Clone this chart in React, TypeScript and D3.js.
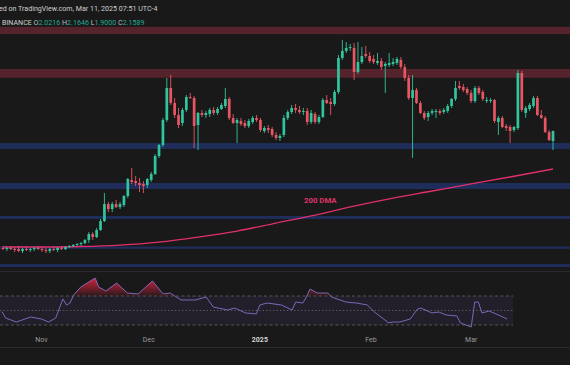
import * as React from 'react';
import * as d3 from 'd3';

const chartWidth = 570;
const chartHeight = 365;

// daily candles, Oct 21 2024 .. Mar 11 2025
const firstDay = new Date(2024, 9, 21);
const lastDay = new Date(2025, 2, 11);

const opens = [
    .563, .549, .563, .549, .549, .522, .549, .536, .549, .563, .549, .536, .522, .549, .536, .563, .549, .577, .590, .604,
    .617, .631, .672, .754, .713, .809, .931, 1.163, 1.095, 1.163, 1.122, 1.150, 1.272, 1.491, 1.477, 1.450, 1.436, 1.422, 1.491, 1.573,
    1.818, 1.968, 2.309, 2.746, 2.541, 2.377, 2.268, 2.446, 2.623, 2.609, 2.241, 2.405, 2.377, 2.391, 2.446, 2.405, 2.459, 2.500, 2.596, 2.337,
    2.268, 2.296, 2.268, 2.227, 2.282, 2.337, 2.309, 2.159, 2.200, 2.186, 2.105, 2.064, 2.105, 2.337, 2.418, 2.473, 2.446, 2.418, 2.432, 2.282,
    2.391, 2.282, 2.350, 2.582, 2.555, 2.527, 2.691, 3.155, 3.251, 3.292, 3.292, 2.964, 3.100, 3.210, 3.182, 3.141, 3.087, 3.114, 3.046, 3.060,
    3.073, 3.087, 3.128, 3.032, 2.882, 2.609, 2.719, 2.541, 2.405, 2.350, 2.405, 2.418, 2.432, 2.418, 2.432, 2.500, 2.596, 2.773, 2.759, 2.732,
    2.678, 2.568, 2.746, 2.691, 2.568, 2.568, 2.582, 2.282, 2.337, 2.227, 2.214, 2.173, 2.200, 2.950, 2.405, 2.459, 2.500, 2.609, 2.377, 2.337,
    2.145, 2.0216
];
const highs = [
    .590, .577, .590, .577, .590, .563, .577, .563, .577, .590, .577, .563, .563, .577, .577, .590, .590, .604, .617, .631,
    .645, .686, .781, .781, .836, .959, 1.313, 1.191, 1.191, 1.218, 1.191, 1.286, 1.518, 1.654, 1.545, 1.518, 1.477, 1.518, 1.600, 1.845,
    1.982, 2.337, 2.882, 2.923, 2.609, 2.473, 2.473, 2.650, 2.678, 2.637, 2.418, 2.446, 2.432, 2.473, 2.487, 2.487, 2.541, 2.746, 2.623, 2.391,
    2.337, 2.337, 2.309, 2.323, 2.364, 2.377, 2.337, 2.227, 2.241, 2.214, 2.145, 2.118, 2.377, 2.446, 2.514, 2.527, 2.500, 2.473, 2.473, 2.446,
    2.418, 2.377, 2.609, 2.650, 2.609, 2.719, 3.196, 3.401, 3.373, 3.346, 3.360, 3.373, 3.305, 3.319, 3.237, 3.196, 3.223, 3.155, 3.100, 3.223,
    3.155, 3.169, 3.169, 3.073, 2.923, 2.923, 2.746, 2.568, 2.432, 2.432, 2.459, 2.459, 2.459, 2.473, 2.527, 2.609, 2.841, 2.841, 2.800, 2.759,
    2.719, 2.773, 2.773, 2.719, 2.623, 2.609, 2.596, 2.364, 2.364, 2.255, 2.241, 2.227, 2.991, 2.978, 2.500, 2.541, 2.637, 2.637, 2.446, 2.364,
    2.173, 2.1646
];
const lows = [
    .536, .522, .536, .508, .508, .495, .522, .508, .522, .536, .508, .495, .495, .522, .508, .536, .536, .563, .577, .590,
    .590, .617, .631, .672, .699, .795, .918, 1.054, 1.054, 1.109, 1.095, 1.122, 1.245, 1.436, 1.409, 1.327, 1.313, 1.382, 1.463, 1.559,
    1.791, 1.941, 2.282, 2.514, 2.337, 2.200, 2.227, 2.418, 2.596, 1.927, 1.900, 2.350, 2.337, 2.350, 2.377, 2.377, 2.446, 2.473, 2.309, 2.255,
    1.995, 2.227, 2.200, 2.200, 2.255, 2.282, 2.145, 2.132, 2.132, 2.077, 2.036, 2.023, 2.077, 2.309, 2.391, 2.405, 2.391, 2.377, 2.241, 2.255,
    2.255, 2.255, 2.337, 2.527, 2.377, 2.500, 2.664, 3.128, 3.223, 3.251, 2.855, 2.937, 3.073, 3.155, 3.087, 3.073, 3.060, 2.991, 2.678, 3.032,
    3.046, 3.060, 3.005, 2.841, 2.582, 1.791, 2.527, 2.391, 2.309, 2.296, 2.377, 2.337, 2.377, 2.391, 2.405, 2.473, 2.568, 2.719, 2.691, 2.650,
    2.541, 2.541, 2.650, 2.568, 2.541, 2.541, 2.268, 2.105, 2.200, 2.159, 1.995, 2.145, 2.173, 2.418, 2.337, 2.432, 2.473, 2.364, 2.323, 2.132,
    2.023, 1.9000
];
const closes = [
    .549, .563, .549, .536, .522, .549, .536, .549, .563, .549, .536, .522, .549, .536, .563, .549, .577, .590, .604, .617,
    .631, .672, .754, .713, .809, .931, 1.163, 1.095, 1.163, 1.122, 1.163, 1.272, 1.504, 1.463, 1.450, 1.422, 1.409, 1.504, 1.573, 1.818,
    1.968, 2.309, 2.746, 2.541, 2.377, 2.241, 2.446, 2.623, 2.609, 2.227, 2.405, 2.377, 2.405, 2.446, 2.405, 2.459, 2.514, 2.596, 2.337, 2.268,
    2.309, 2.255, 2.227, 2.296, 2.337, 2.309, 2.173, 2.200, 2.173, 2.105, 2.064, 2.091, 2.337, 2.418, 2.473, 2.446, 2.418, 2.432, 2.282, 2.405,
    2.282, 2.350, 2.582, 2.541, 2.527, 2.691, 3.155, 3.251, 3.292, 3.305, 2.964, 3.100, 3.182, 3.182, 3.114, 3.100, 3.114, 3.032, 3.073, 3.087,
    3.100, 3.141, 3.032, 2.882, 2.609, 2.719, 2.541, 2.405, 2.337, 2.405, 2.432, 2.432, 2.405, 2.446, 2.500, 2.596, 2.746, 2.746, 2.719, 2.678,
    2.568, 2.746, 2.678, 2.596, 2.582, 2.582, 2.296, 2.337, 2.214, 2.200, 2.159, 2.214, 2.950, 2.446, 2.473, 2.514, 2.609, 2.377, 2.337, 2.145,
    2.036, 2.1589
];

// 200 day moving average, read at every tenth candle
const dmaIdx = [0, 10, 20, 30, 40, 50, 60, 70, 80, 90, 100, 110, 120, 130, 141];
const dmaVals = [.577, .577, .584, .604, .645, .713, .795, .904, 1.013, 1.136, 1.245, 1.341, 1.437, 1.532, 1.641];

// RSI turning points
const rsiIdx = [0, 1, 4, 8, 11, 13, 15, 17, 18, 19, 20, 22, 26, 27, 29, 32, 35, 38, 42, 45, 47, 50, 54, 57, 59, 63, 65, 68, 71, 72, 74,
    78, 81, 82, 84, 85, 86, 88, 91, 92, 96, 99, 102, 104, 108, 109, 111, 114, 116, 117, 120, 122, 124, 127, 128, 131, 132, 133, 134, 136, 138, 141];
const rsiVals = [48.3, 39.7, 34.1, 41.0, 38.3, 34.1, 39.7, 65.9, 57.6, 60.3, 71.4, 82.4, 94.8, 82.4, 76.9, 87.9, 74.1, 72.8, 90.7, 72.8, 74.1,
    64.5, 64.5, 68.6, 54.8, 50.7, 53.4, 46.6, 45.2, 57.6, 60.3, 57.6, 50.7, 61.7, 60.3, 68.6, 79.6, 74.1, 74.1, 68.6, 61.7, 60.3, 57.6, 47.9,
    32.8, 34.1, 34.1, 38.3, 52.1, 53.4, 46.6, 47.9, 43.8, 42.4, 32.8, 27.2, 61.7, 61.7, 46.6, 49.3, 45.2, 38.3];

// horizontal zones [low, high]
const resistanceZones = [[3.48, 3.58], [2.885, 3.005]];
const supportZones = [[1.914, 1.995], [1.368, 1.45], [0.959, 1.0], [0.552, 0.584], [0.304, 0.345]];

const monthTicks = [new Date(2024, 10, 1), new Date(2024, 11, 1), new Date(2025, 0, 1), new Date(2025, 1, 1), new Date(2025, 2, 1)];
const headerText = 'ed on TradingView.com, Mar 11, 2025 07:51 UTC-4';
const exchangeName = 'BINANCE';
const ohlcNames = ['O', 'H', 'L', 'C'];

const upColor = '#31c59d';
const downColor = '#e85663';
const bgColor = '#191919';
const font = 'Roboto, "DejaVu Sans", sans-serif';

const mainBottom = 271;
const rsiPaneRight = 513;

class CandleChart extends React.Component<object, object> {
    private svgElement: SVGSVGElement | null = null;

    render() {
        return <svg
            ref={node => { this.svgElement = node; }}
            width={chartWidth}
            height={chartHeight}
            style={{ position: 'fixed', left: 0, top: 0, display: 'block' }}>
        </svg>;
    }

    componentDidMount() {
        this.createChart();
    }

    createChart() {
        const svg = d3.select(this.svgElement);
        svg.selectAll('*').remove();

        const dates = opens.map((_, i) => d3.timeDay.offset(firstDay, i));
        const xMain = d3.scaleTime().domain([firstDay, lastDay]).range([3, 553]);
        const xLow = d3.scaleTime().domain([firstDay, lastDay]).range([2, 507]);
        const yPrice = d3.scaleLinear().domain([1.9, 3.4]).range([150, 40]);
        const yRsi = d3.scaleLinear().domain([0, 100]).range([346.75, 274.25]);

        svg.append('rect').attr('width', chartWidth).attr('height', chartHeight).attr('fill', bgColor);

        const defs = svg.append('defs');
        defs.append('clipPath').attr('id', 'mainClip')
            .append('rect').attr('x', 0).attr('y', 0).attr('width', chartWidth).attr('height', mainBottom);
        defs.append('clipPath').attr('id', 'obClip')
            .append('rect').attr('x', 0).attr('y', 272).attr('width', chartWidth).attr('height', yRsi(70) - 272);
        defs.append('clipPath').attr('id', 'osClip')
            .append('rect').attr('x', 0).attr('y', yRsi(30)).attr('width', chartWidth).attr('height', 346 - yRsi(30));

        const obGrad = defs.append('linearGradient').attr('id', 'obGrad')
            .attr('gradientUnits', 'userSpaceOnUse')
            .attr('x1', 0).attr('x2', 0).attr('y1', yRsi(95)).attr('y2', yRsi(70));
        obGrad.append('stop').attr('offset', 0).attr('stop-color', '#e0233f').attr('stop-opacity', 0.95);
        obGrad.append('stop').attr('offset', 1).attr('stop-color', '#e0233f').attr('stop-opacity', 0.08);
        const osGrad = defs.append('linearGradient').attr('id', 'osGrad')
            .attr('gradientUnits', 'userSpaceOnUse')
            .attr('x1', 0).attr('x2', 0).attr('y1', yRsi(30)).attr('y2', yRsi(5));
        osGrad.append('stop').attr('offset', 0).attr('stop-color', '#089981').attr('stop-opacity', 0.08);
        osGrad.append('stop').attr('offset', 1).attr('stop-color', '#089981').attr('stop-opacity', 0.9);

        // main pane
        const plot = svg.append('g').attr('clip-path', 'url(#mainClip)');

        plot.selectAll('rect.res')
            .data(resistanceZones)
            .enter().append('rect')
            .attr('x', 0).attr('width', chartWidth)
            .attr('y', d => yPrice(d[1]))
            .attr('height', d => yPrice(d[0]) - yPrice(d[1]))
            .attr('fill', '#55232c');

        plot.selectAll('rect.sup')
            .data(supportZones)
            .enter().append('rect')
            .attr('x', 0).attr('width', chartWidth)
            .attr('y', d => yPrice(d[1]))
            .attr('height', d => yPrice(d[0]) - yPrice(d[1]))
            .attr('fill', '#1e2d5a');

        const dmaLine = d3.line<number>()
            .x((_, k) => xMain(dates[dmaIdx[k]]))
            .y(d => yPrice(d))
            .curve(d3.curveMonotoneX);
        plot.append('path')
            .attr('d', dmaLine(dmaVals))
            .attr('fill', 'none')
            .attr('stroke', '#e0306c')
            .attr('stroke-width', 1.3);

        const bodyWidth = 2.7;
        const candles = plot.selectAll('g.candle')
            .data(opens.map((o, i) => ({ date: dates[i], o, h: highs[i], l: lows[i], c: closes[i] })))
            .enter().append('g');

        candles.append('line')
            .attr('x1', d => xMain(d.date)).attr('x2', d => xMain(d.date))
            .attr('y1', d => yPrice(d.h)).attr('y2', d => yPrice(d.l))
            .attr('stroke', d => d.c >= d.o ? upColor : downColor)
            .attr('stroke-width', 0.9);

        candles.append('rect')
            .attr('x', d => xMain(d.date) - bodyWidth / 2)
            .attr('width', bodyWidth)
            .attr('y', d => yPrice(Math.max(d.o, d.c)))
            .attr('height', d => Math.max(0.9, Math.abs(yPrice(d.o) - yPrice(d.c))))
            .attr('fill', d => d.c >= d.o ? upColor : downColor);

        svg.append('text')
            .attr('x', 304).attr('y', 203)
            .attr('font-family', font).attr('font-size', 7.8).attr('font-weight', 'bold')
            .attr('fill', '#e0336c')
            .text('200 DMA');

        // header
        svg.append('text')
            .attr('x', -1).attr('y', 11)
            .attr('font-family', font).attr('font-size', 7.1)
            .attr('fill', '#cfcfcf')
            .text(headerText);

        const last = opens.length - 1;
        const lastValues = [opens[last], highs[last], lows[last], closes[last]];
        const legend = svg.append('text')
            .attr('x', 2).attr('y', 25)
            .attr('font-family', font).attr('font-size', 7.1)
            .attr('fill', '#cfcfcf');
        legend.append('tspan').text(exchangeName + ' ');
        ohlcNames.forEach((name, k) => {
            legend.append('tspan').attr('fill', '#bdbdbd').text(name);
            legend.append('tspan').attr('fill', '#22ab94').text(d3.format('.4f')(lastValues[k]) + (k < 3 ? ' ' : ''));
        });

        // rsi pane
        svg.append('line').attr('x1', 0).attr('x2', chartWidth).attr('y1', 271.5).attr('y2', 271.5)
            .attr('stroke', '#2b2b2b');
        svg.append('rect')
            .attr('x', 0).attr('width', rsiPaneRight)
            .attr('y', yRsi(70)).attr('height', yRsi(30) - yRsi(70))
            .attr('fill', '#7e57c2').attr('fill-opacity', 0.1);

        svg.selectAll('line.level')
            .data([70, 50, 30])
            .enter().append('line')
            .attr('x1', 0).attr('x2', rsiPaneRight)
            .attr('y1', d => yRsi(d)).attr('y2', d => yRsi(d))
            .attr('stroke', '#6e6e6e')
            .attr('stroke-width', 0.7)
            .attr('stroke-dasharray', d => d === 50 ? '1.5,2' : '3,2.5');

        const rsiArea = d3.area<number>()
            .x((_, k) => xLow(dates[rsiIdx[k]]));
        svg.append('path')
            .attr('clip-path', 'url(#obClip)')
            .attr('d', rsiArea.y0(yRsi(70)).y1(d => yRsi(d))(rsiVals))
            .attr('fill', 'url(#obGrad)');
        svg.append('path')
            .attr('clip-path', 'url(#osClip)')
            .attr('d', rsiArea.y0(yRsi(30)).y1(d => yRsi(d))(rsiVals))
            .attr('fill', 'url(#osGrad)');

        const rsiLine = d3.line<number>()
            .x((_, k) => xLow(dates[rsiIdx[k]]))
            .y(d => yRsi(d));
        svg.append('path')
            .attr('d', rsiLine(rsiVals))
            .attr('fill', 'none')
            .attr('stroke', '#8270c8')
            .attr('stroke-width', 0.9);

        // time axis
        const fmtTick = (d: Date) => d.getMonth() === 0 ? d3.timeFormat('%Y')(d) : d3.timeFormat('%b')(d);
        svg.selectAll('text.tick')
            .data(monthTicks)
            .enter().append('text')
            .attr('x', d => xLow(d))
            .attr('y', 342)
            .attr('text-anchor', 'middle')
            .attr('font-family', font)
            .attr('font-size', 7)
            .attr('font-weight', d => d.getMonth() === 0 ? 'bold' : 'normal')
            .attr('fill', d => d.getMonth() === 0 ? '#d4d4d4' : '#9a9a9a')
            .text(fmtTick);

        svg.append('line').attr('x1', 0).attr('x2', chartWidth).attr('y1', 347.5).attr('y2', 347.5)
            .attr('stroke', '#2b2b2b');
    }
}

export default function App() {
    return <CandleChart />;
}
